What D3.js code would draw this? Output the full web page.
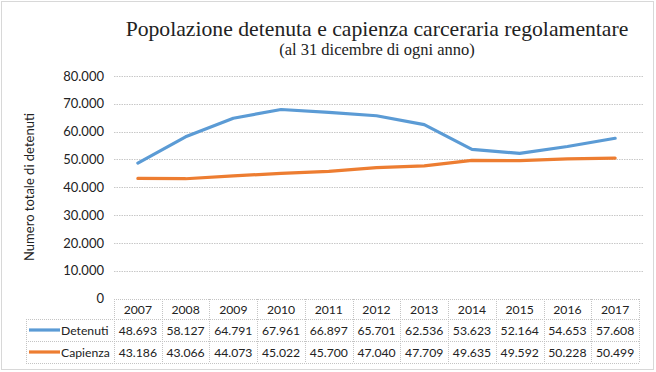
<!DOCTYPE html>
<html>
<head>
<meta charset="utf-8">
<script src="https://cdn.jsdelivr.net/npm/d3@7"></script>
<style>
  body { margin: 0; background: #fff; }
  text { fill: #222; }
</style>
</head>
<body>
<svg id="chart" width="656" height="372"></svg>
<script>
// data
const years = ['2007', '2008', '2009', '2010', '2011', '2012', '2013', '2014', '2015', '2016', '2017'];
const detenuti = [48693, 58127, 64791, 67961, 66897, 65701, 62536, 53623, 52164, 54653, 57608];
const capienza = [43186, 43066, 44073, 45022, 45700, 47040, 47709, 49635, 49592, 50228, 50499];
const yTicks = [0, 10000, 20000, 30000, 40000, 50000, 60000, 70000, 80000];

const series = [
    {name: 'Detenuti', values: detenuti, color: '#5b9bd5'},
    {name: 'Capienza', values: capienza, color: '#ed7d31'}
];

const it = d3.formatLocale({decimal: ',', thousands: '.', grouping: [3], currency: ['', '€']});
const fmt = it.format(',d');

const svg = d3.select('#chart');
const sans = 'Lato, "Open Sans", sans-serif';
const serif = '"Liberation Serif", "Times New Roman", serif';

// outer frame
svg.append('rect')
    .attr('x', 1.5).attr('y', 1.5).attr('width', 652).attr('height', 368)
    .attr('fill', 'none').attr('stroke', '#b0b0b0').attr('stroke-dasharray', '1,1');

// titles
svg.append('text').attr('x', 377).attr('y', 36)
    .attr('text-anchor', 'middle')
    .style('font-family', serif)
    .style('font-size', '21.7px')
    .text('Popolazione detenuta e capienza carceraria regolamentare');
svg.append('text').attr('x', 377).attr('y', 55)
    .attr('text-anchor', 'middle')
    .style('font-family', serif)
    .style('font-size', '16.5px')
    .text('(al 31 dicembre di ogni anno)');

const x = d3.scaleBand().domain(years).range([114, 639]);
const y = d3.scaleLinear().domain([0, 80000]).range([298.5, 76]);

// gridlines
svg.append('g').selectAll('line').data(yTicks.filter(d => d > 0)).join('line')
    .attr('x1', 114).attr('x2', 643)
    .attr('y1', d => Math.round(y(d)) + 0.5).attr('y2', d => Math.round(y(d)) + 0.5)
    .attr('stroke', '#c8c8c8').attr('stroke-dasharray', '1.5,1');

// y axis labels
const yAxis = d3.axisLeft(y).tickValues(yTicks).tickFormat(fmt).tickSize(0).tickPadding(0);
svg.append('g').attr('transform', 'translate(104,0)').call(yAxis)
    .call(g => g.select('.domain').remove())
    .selectAll('text')
    .style('font-family', sans).style('font-size', '13px').attr('fill', '#333');

svg.append('text')
    .attr('transform', 'translate(34,187) rotate(-90)')
    .attr('text-anchor', 'middle')
    .style('font-family', sans).style('font-size', '13px')
    .text('Numero totale di detenuti');

// lines
const line = d3.line()
    .x((d, i) => x(years[i]) + x.bandwidth() / 2)
    .y(d => y(d));

svg.append('g').selectAll('path').data(series).join('path')
    .attr('d', d => line(d.values))
    .attr('fill', 'none')
    .attr('stroke', d => d.color)
    .attr('stroke-width', 3.2)
    .attr('stroke-linejoin', 'round')
    .attr('stroke-linecap', 'round');

// data table
const rowTop = [299, 319, 341];
const rowH = [20, 22, 22];
const tableBottom = 363;
const grid = svg.append('g').attr('stroke', '#c4c4c4').attr('stroke-dasharray', '1,1').attr('fill', 'none');

// horizontal lines
grid.append('line').attr('x1', 114).attr('x2', 639).attr('y1', 299.5).attr('y2', 299.5);
[319.5, 341.5, 363.5].forEach(yy => {
    grid.append('line').attr('x1', 26).attr('x2', 639).attr('y1', yy).attr('y2', yy);
});
// vertical lines
x.domain().concat(['end']).forEach((yr, i) => {
    const xx = Math.round(114 + i * x.bandwidth()) + 0.5;
    grid.append('line').attr('x1', xx).attr('x2', xx).attr('y1', 299).attr('y2', tableBottom);
});
grid.append('line').attr('x1', 26.5).attr('x2', 26.5).attr('y1', 319).attr('y2', tableBottom);

const cellFont = g => g.style('font-family', sans).style('font-size', '12.2px');

svg.append('g').selectAll('text').data(years).join('text')
    .attr('x', d => x(d) + x.bandwidth() / 2)
    .attr('y', rowTop[0] + 15)
    .attr('text-anchor', 'middle')
    .call(cellFont)
    .text(d => d);

series.forEach((s, r) => {
    const ty = rowTop[r + 1] + 16;
    const cy = rowTop[r + 1] + rowH[r + 1] / 2;
    svg.append('line')
        .attr('x1', 29).attr('x2', 60).attr('y1', cy).attr('y2', cy)
        .attr('stroke', s.color).attr('stroke-width', 3.2);
    svg.append('text').attr('x', 61).attr('y', ty).call(cellFont).text(s.name);
    svg.append('g').selectAll('text').data(s.values).join('text')
        .attr('x', (d, i) => x(years[i]) + x.bandwidth() / 2)
        .attr('y', ty)
        .attr('text-anchor', 'middle')
        .call(cellFont)
        .text(d => fmt(d));
});
</script>
</body>
</html>
